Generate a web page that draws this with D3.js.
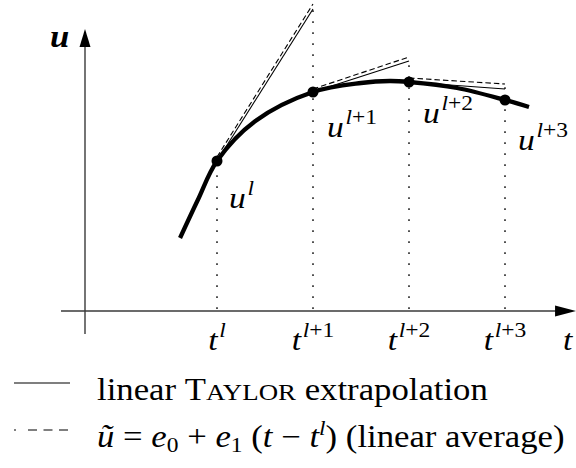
<!DOCTYPE html>
<html>
<head>
<meta charset="utf-8">
<script src="https://cdn.jsdelivr.net/npm/d3@7"></script>
<style>
  html, body { margin: 0; padding: 0; background: #fff; }
  svg { display: block; }
  text { font-family: "Liberation Serif", "Times New Roman", serif; fill: #000; }
</style>
</head>
<body>
<svg id="chart" width="576" height="468"></svg>
<script>
// Time levels t^l ... t^{l+3} and the solution values u there
const levelNames = ["l", "l+1", "l+2", "l+3"];
const levelT = [1, 2, 3, 4];
const levelU = [15.0, 21.9, 22.9, 21.1];

// Exact solution u(t), sampled
const curveT = [0.615, 0.8, 1.0, 1.4, 2.0, 2.5, 2.8, 3.0, 3.5, 4.0, 4.25];
const curveU = [7.3, 11.1, 15.0, 19.0, 21.9, 22.8, 23.0, 22.9, 22.3, 21.1, 20.4];

// Linear Taylor extrapolation: slope du/dt at each level, used over [t^i, t^{i+1}]
const taylorSlope = [15.2, 3.1, -0.7];

// Linear average  ũ = e0 + e1 (t - t^i)  over [t^i, t^{i+1}]
const avgE0 = [15.4, 22.2, 23.3];
const avgE1 = [15.3, 3.2, -0.6];

// Height reached by each dotted guide line
const guideTop = [15.0, 30.2, 25.0, 22.4];

// Legend entries
const legendLabels = ["linear Taylor extrapolation", "linear average"];

const svg = d3.select("#chart");
const x = d3.scaleLinear().domain([0, 4]).range([121, 505]);
const y = d3.scaleLinear().domain([0, 30]).range([311, 11]);

const axisT0 = -0.375;          // t where the u-axis stands
const axisColor = "#3a3a3a";
const wide = 1.12;              // horizontal stretch giving the serif type a wider set

// ---- axes ----
const gAxes = svg.append("g");
const xEnd = 4.74, xStart = -0.625;
const uEnd = 28.2, uStart = -2.3;
gAxes.append("line")
  .attr("x1", x(xStart)).attr("y1", y(0))
  .attr("x2", x(xEnd) - 18).attr("y2", y(0))
  .attr("stroke", axisColor).attr("stroke-width", 1.4);
gAxes.append("line")
  .attr("x1", x(axisT0)).attr("y1", y(uStart))
  .attr("x2", x(axisT0)).attr("y2", y(uEnd) + 14)
  .attr("stroke", axisColor).attr("stroke-width", 1.4);
// arrow heads
const tipX = x(xEnd), tipY = y(uEnd);
gAxes.append("path")
  .attr("d", `M${tipX},${y(0)} L${tipX - 21},${y(0) - 5.5} L${tipX - 21},${y(0) + 5.5} Z`)
  .attr("fill", "#000");
gAxes.append("path")
  .attr("d", `M${x(axisT0)},${tipY} L${x(axisT0) - 5.5},${tipY + 18} L${x(axisT0) + 5.5},${tipY + 18} Z`)
  .attr("fill", "#000");

// text placed at (px, py) with the wider set
function wideText(px, py) {
  return svg.append("text").attr("transform", `translate(${px},${py}) scale(${wide},1)`);
}

// axis titles
wideText(50, 47).attr("font-size", 31).attr("font-weight", "bold").attr("font-style", "italic").text("u");
wideText(563, 350).attr("font-size", 30).attr("font-style", "italic").text("t");

// ---- dotted guides ----
svg.append("g").selectAll("line").data(levelT).join("line")
  .attr("x1", d => x(d)).attr("x2", d => x(d))
  .attr("y1", y(0) - 2).attr("y2", (d, i) => y(guideTop[i]))
  .attr("stroke", "#333").attr("stroke-width", 1.7)
  .attr("stroke-dasharray", "1.7,9.3");

// ---- exact curve ----
const curvePts = curveT.map((t, i) => [t, curveU[i]]);
svg.append("path")
  .attr("d", d3.line().x(d => x(d[0])).y(d => y(d[1])).curve(d3.curveCatmullRom.alpha(0.5))(curvePts))
  .attr("fill", "none").attr("stroke", "#000").attr("stroke-width", 4.3);

// ---- extrapolation segments ----
const segs = d3.range(taylorSlope.length);
svg.append("g").selectAll("line").data(segs).join("line")
  .attr("x1", i => x(levelT[i])).attr("y1", i => y(levelU[i]))
  .attr("x2", i => x(levelT[i + 1])).attr("y2", i => y(levelU[i] + taylorSlope[i] * (levelT[i + 1] - levelT[i])))
  .attr("stroke", "#000").attr("stroke-width", 1.1);
svg.append("g").selectAll("line").data(segs).join("line")
  .attr("x1", i => x(levelT[i])).attr("y1", i => y(avgE0[i]))
  .attr("x2", i => x(levelT[i + 1])).attr("y2", i => y(avgE0[i] + avgE1[i] * (levelT[i + 1] - levelT[i])))
  .attr("stroke", "#000").attr("stroke-width", 1.1)
  .attr("stroke-dasharray", "5.5,3");

// ---- solution points ----
svg.append("g").selectAll("circle").data(levelT).join("circle")
  .attr("cx", d => x(d)).attr("cy", (d, i) => y(levelU[i]))
  .attr("r", 5.5).attr("fill", "#000");

// ---- labels ----
function power(sel, base, sup, size) {
  sel.append("tspan").attr("font-style", "italic").attr("font-size", size).text(base);
  const m = sup.match(/^([a-z]+)(.*)$/);
  sel.append("tspan").attr("font-style", "italic").attr("font-size", size * 0.7)
    .attr("dy", -size * 0.45).attr("dx", 1.5).text(m[1]);
  if (m[2]) sel.append("tspan").attr("font-size", size * 0.7).text(m[2]);
}
const uOffset = [[12, 47], [14, 45], [14, 41], [13, 50]];
levelT.forEach((t, i) => {
  power(wideText(x(t) + uOffset[i][0], y(levelU[i]) + uOffset[i][1]), "u", levelNames[i], 30);
  power(wideText(x(t), 350).attr("text-anchor", "middle"), "t", levelNames[i], 30);
});

// ---- legend ----
const lg = svg.append("g");
lg.append("line").attr("x1", 14).attr("x2", 70).attr("y1", 383).attr("y2", 383)
  .attr("stroke", "#000").attr("stroke-width", 1.1);
lg.append("line").attr("x1", 14).attr("x2", 70).attr("y1", 430).attr("y2", 430)
  .attr("stroke", "#000").attr("stroke-width", 1.1)
  .attr("stroke-dasharray", "2,12,9,6.5,9,6.5,9,10");

const words = legendLabels[0].split(" ");
const r1 = wideText(97, 400).attr("font-size", 31);
r1.append("tspan").text(words[0] + " ");
r1.append("tspan").text(words[1][0]);
r1.append("tspan").attr("font-size", 24).text(words[1].slice(1).toUpperCase());
r1.append("tspan").text(" " + words[2]);

const r2 = wideText(97, 447).attr("font-size", 31);
const it = s => r2.append("tspan").attr("font-style", "italic").text(s);
const rm = s => r2.append("tspan").text(s);
it("ũ"); rm(" = "); it("e");
r2.append("tspan").attr("font-size", 21).attr("dy", 5).text("0");
r2.append("tspan").attr("dy", -5).text(" + "); it("e");
r2.append("tspan").attr("font-size", 21).attr("dy", 5).text("1");
r2.append("tspan").attr("dy", -5).text(" ("); it("t"); rm(" − "); it("t");
r2.append("tspan").attr("font-style", "italic").attr("font-size", 21).attr("dy", -12).text("l");
r2.append("tspan").attr("dy", 12).text(") (" + legendLabels[1] + ")");
</script>
</body>
</html>
